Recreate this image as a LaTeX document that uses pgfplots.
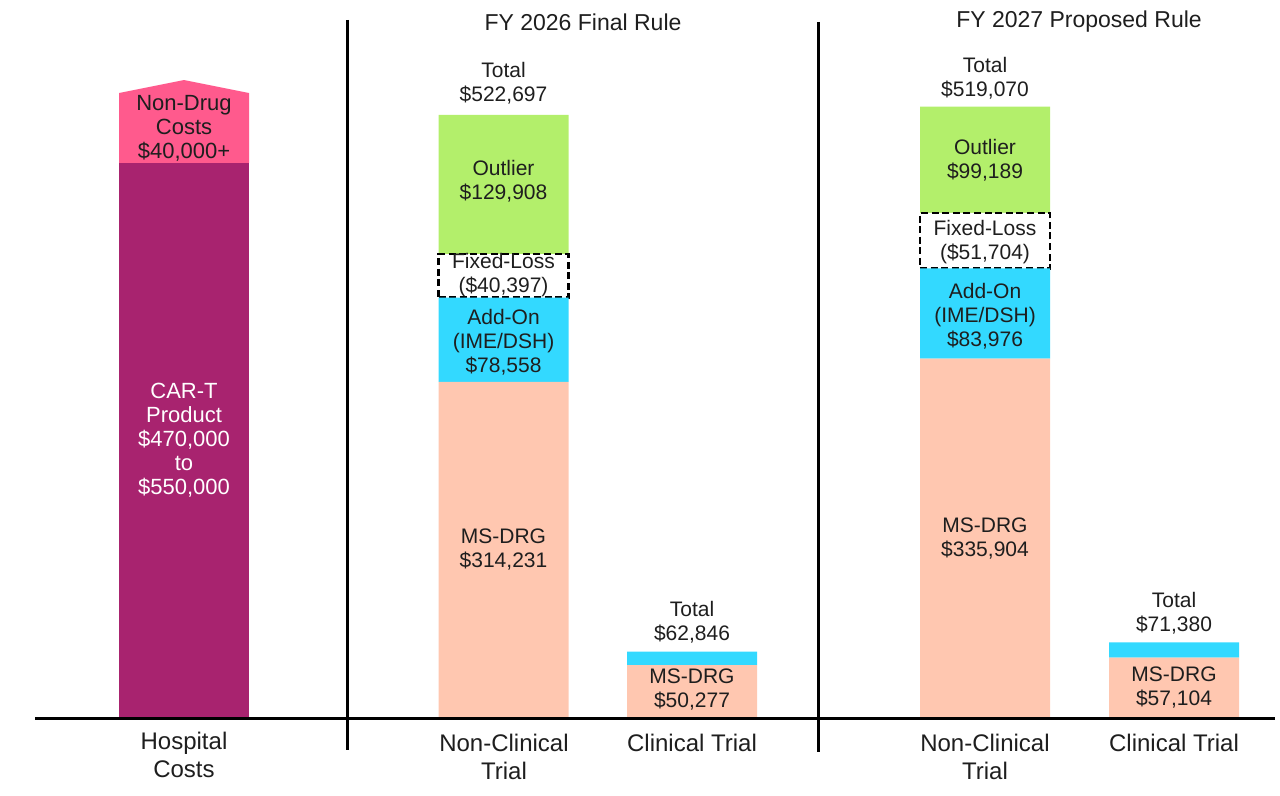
\documentclass[border=0pt]{standalone}
\usepackage{pgfplots}
\pgfplotsset{compat=1.18}
\usepackage{fontspec}
\setmainfont{Liberation Sans}

\definecolor{cart}{HTML}{A8236F}
\definecolor{nondrug}{HTML}{FF5A8D}
\definecolor{outlier}{HTML}{B3EF6B}
\definecolor{addon}{HTML}{33D9FF}
\definecolor{msdrg}{HTML}{FFC7B0}
\definecolor{txt}{HTML}{1E1E1E}

% 1 px of the reference = 0.5pt; 1 px in y = 932 dollars
\pgfplotsset{
  base/.style={scale only axis, width=640pt, height=398pt,
    xmin=0, xmax=1280, ymin=-71764, ymax=670108,
    hide axis, clip=false, at={(0,0)}, anchor=south west},
}

\newcommand{\lbl}{\fontsize{10.5}{12}\selectfont}
\newcommand{\hlbl}{\fontsize{11}{12}\selectfont}
\newcommand{\xlbl}{\fontsize{12}{14}\selectfont}

\begin{document}
\begin{tikzpicture}

% hospital costs
\begin{axis}[base]
\addplot[ybar, bar width=65pt, fill=cart, draw=none] coordinates {(184,518200)};
\addplot[fill=nondrug, draw=none] coordinates {
  (119,518200) (119,583400) (184,595500) (249,583400) (249,518200)};
\end{axis}

% clinical trial bars
\begin{axis}[base, ybar stacked, bar width=65pt]
\addplot[fill=msdrg, draw=none] coordinates {(692,50277) (1174,57104)};
\addplot[fill=addon, draw=none] coordinates {(692,12569) (1174,14276)};
\end{axis}

% non-clinical trial bars
\begin{axis}[base, ybar stacked, bar width=65pt]
\addplot[fill=msdrg, draw=none] coordinates {(503.5,314231) (985,335904)};
\addplot[fill=addon, draw=none] coordinates {(503.5,78558) (985,83976)};
\addplot[fill=white, draw=black, line width=1.2pt, dash pattern=on 3.5pt off 1.8pt]
  coordinates {(503.5,40397) (985,51704)};
\addplot[fill=outlier, draw=none] coordinates {(503.5,129908) (985,99189)};
\end{axis}

\begin{scope}[shift={(0,398pt)}, x=0.5pt, y=-0.5pt]
\path (0,0) rectangle (1280,796);
\draw[line width=1.5pt] (35,719) -- (1275,719);
\draw[line width=1.5pt] (347,20) -- (347,750);
\draw[line width=1.5pt] (818,22) -- (818,752);

\begin{scope}[every node/.style={align=center, text=txt, inner sep=0pt}]
\node[font=\fontsize{11.5}{14}\selectfont] at (583,22) {FY 2026 Final Rule};
\node[font=\fontsize{11.5}{14}\selectfont] at (1079,22) {FY 2027 Proposed Rule};

\node[font=\hlbl] at (184,128) {Non-Drug\\Costs\\\$40,000+};
\node[font=\hlbl, text=white] at (184,440) {CAR-T\\Product\\\$470,000\\to\\\$550,000};

\node[font=\lbl] at (503.5,83) {Total\\\$522,697};
\node[font=\lbl] at (503.5,181) {Outlier\\\$129,908};
\node[font=\lbl] at (503.5,275) {Fixed-Loss\\(\$40,397)};
\node[font=\lbl] at (503.5,342) {Add-On\\(IME/DSH)\\\$78,558};
\node[font=\lbl] at (503.5,550) {MS-DRG\\\$314,231};

\node[font=\lbl] at (692,622) {Total\\\$62,846};
\node[font=\lbl] at (692,690) {MS-DRG\\\$50,277};

\node[font=\lbl] at (985,78) {Total\\\$519,070};
\node[font=\lbl] at (985,160) {Outlier\\\$99,189};
\node[font=\lbl] at (985,242) {Fixed-Loss\\(\$51,704)};
\node[font=\lbl] at (985,316) {Add-On\\(IME/DSH)\\\$83,976};
\node[font=\lbl] at (985,539) {MS-DRG\\\$335,904};

\node[font=\lbl] at (1174,613) {Total\\\$71,380};
\node[font=\lbl] at (1174,688) {MS-DRG\\\$57,104};

\node[font=\xlbl] at (184,755) {Hospital\\Costs};
\node[font=\xlbl] at (504,757) {Non-Clinical\\Trial};
\node[font=\xlbl] at (692,743) {Clinical Trial};
\node[font=\xlbl] at (985,757) {Non-Clinical\\Trial};
\node[font=\xlbl] at (1174,743) {Clinical Trial};
\end{scope}
\end{scope}

\end{tikzpicture}
\end{document}
